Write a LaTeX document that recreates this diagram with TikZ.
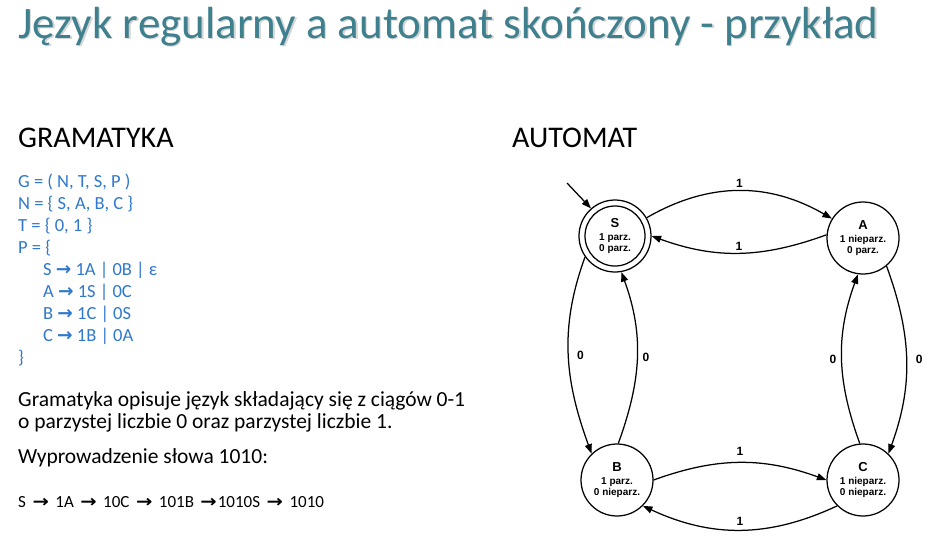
\documentclass[tikz,border=0pt]{standalone}
\usepackage{fontspec}
\setmainfont{Carlito}
\newfontfamily\diagfont{Liberation Sans}
\newfontfamily\symfont{DejaVu Sans}
\usetikzlibrary{arrows.meta}

\definecolor{titleteal}{RGB}{62,128,141}
\definecolor{gramblue}{RGB}{47,120,205}

% bold arrow used in productions
\newcommand{\prodarr}{{\symfont\bfseries →}}
% wider arrow used in the derivation line
\newcommand{\derivarr}{\hspace{6.5pt}\scalebox{1.15}[1]{\symfont\bfseries →}\hspace{6.5pt}}

\begin{document}
\begin{tikzpicture}[x=1pt,y=1pt,
  state/.style={circle,draw,line width=1.25pt,minimum size=72pt,inner sep=0pt,
    align=center,font=\diagfont\bfseries\fontsize{10}{11}\selectfont},
  edge/.style={line width=1.25pt,-{Triangle[length=9.5pt,width=7pt]}},
  elabel/.style={font=\diagfont\bfseries\fontsize{12}{12}\selectfont,inner sep=2pt},
  txt/.style={anchor=base west,inner sep=0pt},
  heading/.style={txt,font=\fontsize{30}{36}\selectfont},
  gram/.style={txt,text=gramblue,font=\fontsize{18.5}{22}\selectfont},
  body/.style={txt,font=\fontsize{21.5}{26}\selectfont},
]
\useasboundingbox (0,0) rectangle (933,-544);

% title with soft shadow
\node[txt,text=black!30,opacity=0.55,font=\fontsize{45}{54}\selectfont] (titleshadow) at (19.5,-39.5)
  {Język regularny a automat skończony - przykład};
\node[txt,text=titleteal,font=\fontsize{45}{54}\selectfont] (title) at (18,-38)
  {Język regularny a automat skończony - przykład};

% left column: grammar
\node[heading] (hgram) at (18,-147) {GRAMATYKA};
\node[gram] (g1) at (18,-187) {G = ( N, T, S, P )};
\node[gram] (g2) at (18,-209) {N = \{ S, A, B, C \}};
\node[gram] (g3) at (18,-231) {T = \{ 0, 1 \}};
\node[gram] (g4) at (18,-253) {P = \{};
\node[gram] (g5) at (43,-275) {S \prodarr{} 1A | 0B | ε};
\node[gram] (g6) at (43,-297) {A \prodarr{} 1S | 0C};
\node[gram] (g7) at (43,-319) {B \prodarr{} 1C | 0S};
\node[gram] (g8) at (43,-341) {C \prodarr{} 1B | 0A};
\node[gram] (g9) at (18,-363) {\}};

\node[body] (p1) at (18,-406) {Gramatyka opisuje język składający się z ciągów 0-1};
\node[body] (p2) at (18,-428) {o parzystej liczbie 0 oraz parzystej liczbie 1.};
\node[body] (p3) at (18,-463) {Wyprowadzenie słowa 1010:};
\node[txt,font=\fontsize{17}{20}\selectfont] (p4) at (18,-507)
  {S\derivarr 1A\derivarr 10C\derivarr 101B\derivarr\hspace{-5.5pt}1010S\derivarr 1010};

% right column: automaton
\node[heading] (hauto) at (512,-147) {AUTOMAT};

\node[state] (S) at (615,-236) {{\fontsize{13}{13}\selectfont S}\\[2pt]1 parz.\\0 parz.};
\draw[line width=1.25pt] (S.center) circle (30);
\node[state] (A) at (863,-238) {{\fontsize{13}{13}\selectfont A}\\[2pt]1 nieparz.\\0 parz.};
\node[state] (B) at (617,-480) {{\fontsize{13}{13}\selectfont B}\\[2pt]1 parz.\\0 nieparz.};
\node[state] (C) at (863,-480) {{\fontsize{13}{13}\selectfont C}\\[2pt]1 nieparz.\\0 nieparz.};

\coordinate (init) at (567,-183);
\draw[edge] (init) -- (S.131);

\draw[edge] (S.30) to[out=30,in=150] node[elabel,above,yshift=1pt] {1} (A.148);
\draw[edge] (A.175) to[out=200,in=-20] node[elabel,above] {1} (S.0);
\draw[edge] (S.215) to[out=250,in=110] node[elabel,right,xshift=6pt] {0} (B.134);
\draw[edge] (B.88) to[out=70,in=-70] node[elabel,right,xshift=3pt] {0} (S.-80);
\draw[edge] (C.95) to[out=110,in=250] node[elabel,left,xshift=-3pt] {0} (A.262);
\draw[edge] (A.-50) to[out=-70,in=70] node[elabel,right,xshift=7pt] {0} (C.46);
\draw[edge] (B.0) to[out=20,in=160] node[elabel,above,yshift=5pt] {1} (C.180);
\draw[edge] (C.225) to[out=205,in=-25] node[elabel,above,yshift=2pt] {1} (B.-45);
\end{tikzpicture}
\end{document}
